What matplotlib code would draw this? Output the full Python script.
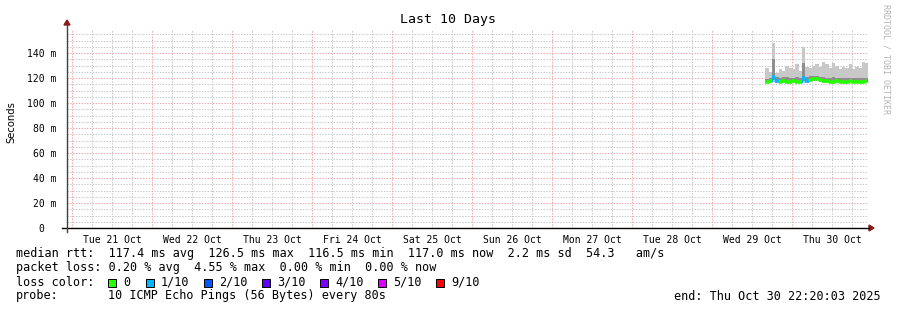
import matplotlib
matplotlib.use("Agg")
import matplotlib.pyplot as plt
import matplotlib.dates as mdates
import pandas as pd
from matplotlib.patches import Rectangle, Polygon
from matplotlib.lines import Line2D

# ---------------- data ----------------
title = "Last 10 Days"
ylabel = "Seconds"
range_start = "2025-10-20 22:20:03"
range_end = "2025-10-30 22:20:03"
day_labels = ["Tue 21 Oct", "Wed 22 Oct", "Thu 23 Oct", "Fri 24 Oct", "Sat 25 Oct",
              "Sun 26 Oct", "Mon 27 Oct", "Tue 28 Oct", "Wed 29 Oct", "Thu 30 Oct"]
day_dates = ["2025-10-21", "2025-10-22", "2025-10-23", "2025-10-24", "2025-10-25",
             "2025-10-26", "2025-10-27", "2025-10-28", "2025-10-29", "2025-10-30"]
ytick_vals = [0, 20, 40, 60, 80, 100, 120, 140]
ytick_labels = ["0  ", "20 m", "40 m", "60 m", "80 m", "100 m", "120 m", "140 m"]

sample_start = "2025-10-29 16:00"
# median rtt (ms), hourly
median = [117.0, 117.4, 121.0, 118.0, 117.2, 117.3, 117.1, 117.0, 117.3, 117.2, 117.0,
          120.0, 117.5, 118.8, 119.6, 119.2, 118.4, 117.8, 117.4, 117.2, 117.0, 117.3,
          117.1, 117.2, 117.0, 117.3, 117.2, 117.1, 117.2, 117.0, 117.3]
# lost pings out of 10
loss = [0, 0, 1, 1, 0, 0, 0, 0, 0, 0, 0,
        1, 1, 0, 0, 0, 0, 0, 0, 0, 0, 0,
        0, 0, 0, 0, 0, 0, 0, 0, 0]
smoke_min = [116.0, 116.2, 116.5, 116.1, 116.0, 116.3, 116.0, 116.1, 116.2, 116.0, 116.1,
             116.4, 116.2, 117.0, 117.8, 117.4, 116.8, 116.4, 116.2, 116.0, 116.1, 116.0,
             116.1, 116.0, 116.2, 116.0, 116.1, 116.0, 116.1, 116.0, 116.2]
smoke_p20 = [116.8, 116.9, 118.5, 117.0, 116.8, 117.0, 116.8, 116.8, 117.0, 116.9, 116.8,
             118.0, 117.0, 118.0, 118.8, 118.4, 117.8, 117.2, 116.9, 116.8, 116.8, 116.9,
             116.8, 116.8, 116.8, 116.9, 116.8, 116.8, 116.9, 116.7, 116.9]
smoke_p80 = [119.5, 120.0, 135.0, 121.0, 119.8, 120.5, 121.0, 120.2, 120.0, 121.0, 120.0,
             132.0, 121.0, 121.5, 122.0, 122.0, 121.0, 120.5, 120.2, 120.0, 120.5, 120.0,
             119.8, 120.0, 119.8, 120.2, 119.8, 120.0, 120.0, 119.8, 120.2]
smoke_max = [128.0, 125.0, 148.0, 124.0, 127.0, 126.0, 130.0, 128.0, 127.0, 131.0, 126.0,
             145.0, 129.0, 128.0, 130.0, 131.0, 129.0, 133.0, 131.0, 128.0, 132.0, 130.0,
             127.0, 129.0, 128.0, 131.0, 127.0, 129.0, 128.0, 133.0, 132.0]

loss_legend = ["0", "1/10", "2/10", "3/10", "4/10", "5/10", "9/10"]
loss_colors = ["#26ff00", "#00b8ff", "#0059ff", "#5e00ff", "#7e00ff", "#dd00ff", "#ff0000"]
loss_color_by_count = {0: "#26ff00", 1: "#00b8ff", 2: "#0059ff", 3: "#5e00ff",
                       4: "#7e00ff", 5: "#dd00ff", 9: "#ff0000"}

stats_line1 = "median rtt:  117.4 ms avg  126.5 ms max  116.5 ms min  117.0 ms now  2.2 ms sd  54.3   am/s"
stats_line2 = "packet loss: 0.20 % avg  4.55 % max  0.00 % min  0.00 % now"
probe_label = "probe:"
probe_text = "10 ICMP Echo Pings (56 Bytes) every 80s"
end_text = "end: Thu Oct 30 22:20:03 2025"
side_text = "RRDTOOL / TOBI OETIKER"

# ---------------- figure ----------------
W, H, DPI = 897, 310, 100
MONO = "DejaVu Sans Mono"
fig = plt.figure(figsize=(W / DPI, H / DPI), dpi=DPI, facecolor="white")

x0, x1 = 66.5, 866.5
y_zero = 228.0
ymax = 159.0
px_per_unit = 1.25
ax = fig.add_axes([x0 / W, (H - y_zero) / H, (x1 - x0) / W, ymax * px_per_unit / H])
ax.set_facecolor("white")

t0 = pd.Timestamp(range_start)
t1 = pd.Timestamp(range_end)
ax.set_xlim(mdates.date2num(t0), mdates.date2num(t1))
ax.set_ylim(0, ymax)

# grids
minor_grid = dict(color="#c8c8c8", lw=0.72, ls=(0, (1.4, 1.4)), zorder=0)
major_grid = dict(color="#f0a8a8", lw=0.72, ls=(0, (1.4, 1.4)), zorder=1)
for v in range(5, 160, 5):
    if v % 20 == 0:
        ax.axhline(v, **major_grid)
    else:
        ax.axhline(v, **minor_grid)
six_hours = pd.date_range("2025-10-20 00:00", "2025-10-31 00:00", freq="6h")
for t in six_hours:
    if t < t0 or t > t1:
        continue
    if t.hour == 0:
        ax.axvline(mdates.date2num(t), **major_grid)
    else:
        ax.axvline(mdates.date2num(t), **minor_grid)

# smoke
times = pd.date_range(sample_start, periods=len(median) + 1, freq="1h")
tn = mdates.date2num(times)
def ext(a):
    return list(a) + [a[-1]]
ax.fill_between(tn, ext(smoke_min), ext(smoke_max), step="post", color="#c8c8c8", lw=0, zorder=2)
ax.fill_between(tn, ext(smoke_p20), ext(smoke_p80), step="post", color="#8e8e8e", lw=0, zorder=3)

# median colored by loss
for i, m in enumerate(median):
    c = loss_color_by_count.get(loss[i], "#ff0000")
    ax.plot([tn[i], tn[i + 1]], [m, m], color=c, lw=2.6, solid_capstyle="butt", zorder=5)
    if i + 1 < len(median):
        cn = loss_color_by_count.get(loss[i + 1], "#ff0000")
        ax.plot([tn[i + 1], tn[i + 1]], [m, median[i + 1]], color=cn, lw=1.0, zorder=5)

for s in ax.spines.values():
    s.set_visible(False)

# ticks
ax.set_yticks(ytick_vals)
ax.set_yticklabels(ytick_labels, fontfamily=MONO, fontsize=7)
ax.tick_params(axis="y", length=0, pad=7, colors="black")
noon = [mdates.date2num(pd.Timestamp(d) + pd.Timedelta(hours=12)) for d in day_dates]
ax.set_xticks(noon)
ax.set_xticklabels(day_labels, fontfamily=MONO, fontsize=7)
ax.tick_params(axis="x", length=0, pad=5, colors="black")

# axes lines and arrows (figure pixel coords)
def F(x, y):
    return (x / W, 1 - y / H)
fig.add_artist(Line2D([F(62, 0)[0], F(869, 0)[0]], [F(0, 228)[1]] * 2, color="black", lw=1.0))
fig.add_artist(Line2D([F(67, 0)[0]] * 2, [F(0, 232)[1], F(0, 25)[1]], color="#404040", lw=1.0))
fig.add_artist(Polygon([F(869, 225), F(874, 228), F(869, 231)], closed=True, color="#8b1a1a"))
fig.add_artist(Polygon([F(64, 25), F(67, 20), F(70, 25)], closed=True, color="#8b1a1a"))

# title / labels
fig.text(448 / W, 1 - 19 / H, title, fontfamily=MONO, fontsize=9.5, ha="center", va="center")
fig.text(11 / W, 1 - 122 / H, ylabel, fontfamily="DejaVu Sans", fontsize=7.2,
         rotation=90, ha="center", va="center")
fig.text(886 / W, 1 - 59 / H, side_text, fontfamily=MONO, fontsize=6.0, rotation=270,
         ha="center", va="center", color="#b4b4b4")

# legend lines
fs = 8.5
fig.text(16 / W, 1 - 254 / H, stats_line1, fontfamily=MONO, fontsize=fs, va="center")
fig.text(16 / W, 1 - 268 / H, stats_line2, fontfamily=MONO, fontsize=fs, va="center")
fig.text(16 / W, 1 - 282 / H, "loss color:", fontfamily=MONO, fontsize=fs, va="center")
sx = 108.0
for lab, col in zip(loss_legend, loss_colors):
    fig.add_artist(Rectangle(F(sx, 287), 8 / W, 8 / H, facecolor=col, edgecolor="black", lw=0.7))
    fig.text((sx + 15) / W, 1 - 282 / H, lab, fontfamily=MONO, fontsize=fs, va="center")
    sx += 31.3 + 6.67 * len(lab)
fig.text(16 / W, 1 - 296 / H, probe_label, fontfamily=MONO, fontsize=fs, va="center")
fig.text(108 / W, 1 - 296 / H, probe_text, fontfamily=MONO, fontsize=fs, va="center")
fig.text(881 / W, 1 - 296 / H, end_text, fontfamily=MONO, fontsize=fs, va="center", ha="right")

fig.savefig("out.png", dpi=DPI, facecolor="white")
